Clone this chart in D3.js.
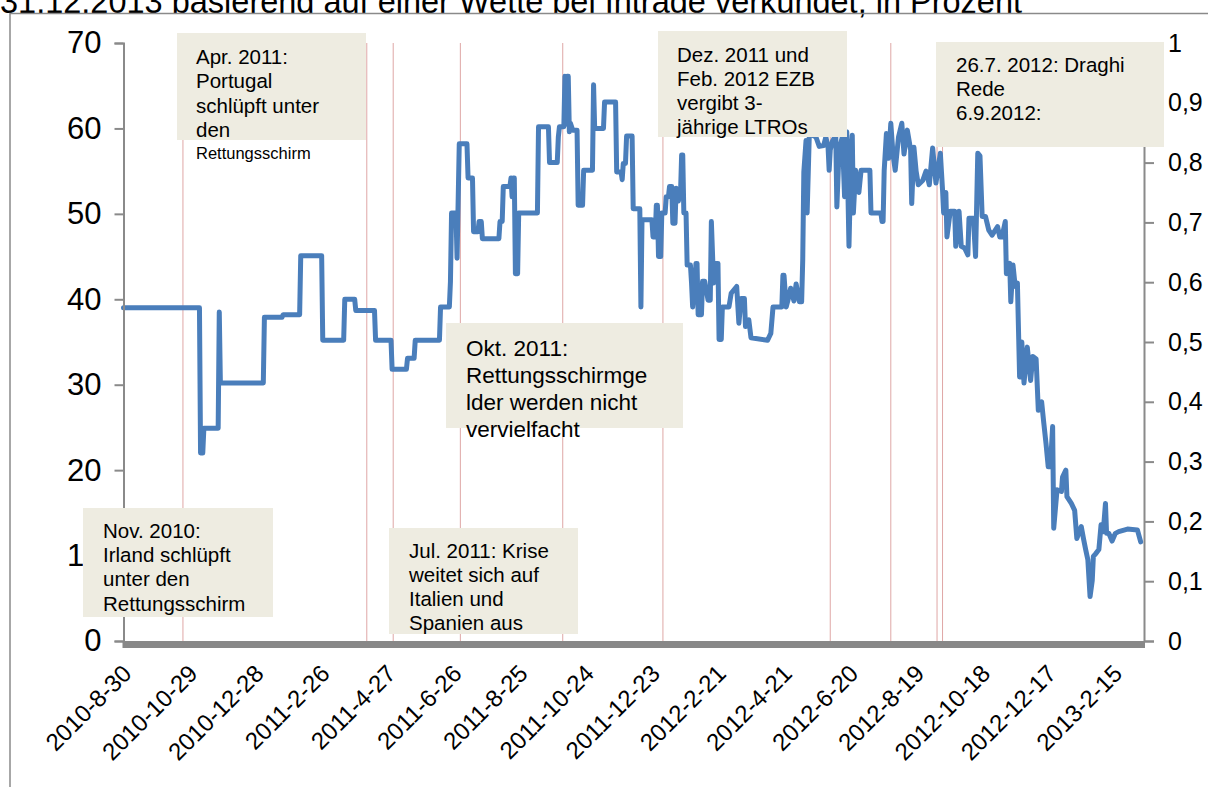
<!DOCTYPE html>
<html>
<head>
<meta charset="utf-8">
<script src="https://cdn.jsdelivr.net/npm/d3@7"></script>
<style>
  body { margin: 0; background: #fff; }
  svg { display: block; font-family: "Liberation Sans", Arial, sans-serif; }
</style>
</head>
<body>
<svg id="chart" width="1208" height="787"></svg>
<script>
const titleText = "31.12.2013 basierend auf einer Wette bei Intrade verkündet, in Prozent";

// day 0 = first category on the axis
const startDate = "2010-8-30";
const lastDay = 927;

const xTickLabels = ["2010-8-30", "2010-10-29", "2010-12-28", "2011-2-26", "2011-4-27", "2011-6-26",
  "2011-8-25", "2011-10-24", "2011-12-23", "2012-2-21", "2012-4-21", "2012-6-20",
  "2012-8-19", "2012-10-18", "2012-12-17", "2013-2-15"];
const leftTicks = [0, 10, 20, 30, 40, 50, 60, 70];
const rightTicks = [0, 0.1, 0.2, 0.3, 0.4, 0.5, 0.6, 0.7, 0.8, 0.9, 1];

// event markers (red lines)
const eventDates = ["2010-10-23", "2011-4-8", "2011-5-2", "2011-7-2", "2011-10-3", "2012-1-2",
  "2012-6-2", "2012-7-27", "2012-9-7", "2012-9-12"];

// days since startDate, and the Intrade probability (percent) on that day
const obsDay = [0, 69, 70, 72, 73, 86, 87, 88, 127, 128, 144, 145, 160, 161, 180, 181, 200, 201, 210, 211,
  228, 229, 243, 244, 257, 258, 264, 265, 287, 288, 296, 297, 298, 302, 303, 305, 312, 313, 317, 318,
  322, 323, 325, 326, 341, 342, 344, 345, 351, 352, 353, 354, 355, 356, 358, 359, 376, 377, 386, 387,
  394, 395, 396, 400, 401, 402, 403, 404, 405, 406, 408, 412, 413, 417, 418, 426, 427, 428, 436, 437,
  447, 448, 452, 453, 454, 456, 457, 462, 463, 469, 470, 471, 480, 481, 483, 484, 485, 486, 488, 489,
  492, 493, 495, 496, 498, 499, 501, 502, 504, 506, 507, 508, 509, 511, 512, 515, 516, 517, 519, 520,
  521, 522, 525, 526, 528, 531, 533, 534, 536, 538, 540, 541, 543, 544, 550, 552, 557, 559, 561, 564,
  565, 568, 570, 585, 588, 590, 598, 599, 600, 602, 604, 606, 609, 611, 614, 616, 617, 618, 620, 621,
  623, 629, 632, 636, 638, 640, 641, 642, 644, 647, 648, 650, 653, 655, 657, 659, 661, 662, 663, 665,
  668, 670, 678, 679, 688, 689, 690, 691, 693, 695, 697, 699, 701, 704, 707, 709, 712, 715, 716, 718,
  720, 722, 726, 729, 732, 735, 738, 742, 744, 745, 747, 748, 751, 755, 756, 759, 761, 764, 767, 768,
  772, 774, 776, 778, 780, 783, 786, 789, 794, 796, 798, 801, 802, 805, 806, 808, 810, 812, 814, 816,
  818, 821, 824, 826, 829, 831, 834, 836, 838, 840, 842, 844, 845, 848, 852, 853, 856, 857, 861, 864,
  866, 870, 872, 874, 876, 878, 880, 881, 883, 886, 888, 890, 892, 893, 895, 898, 901, 904, 912, 921,
  924];
const obsValue = [39.0, 39.0, 22.0, 22.0, 24.9, 24.9, 38.5, 30.2, 30.2, 37.9, 37.9, 38.2, 38.2, 45.1, 45.1, 35.2, 35.2, 40.0, 40.0, 38.7,
  38.7, 35.2, 35.2, 31.8, 31.8, 33.1, 33.1, 35.2, 35.2, 39.1, 39.1, 42.1, 50.1, 50.1, 44.8, 58.2, 58.2, 54.2, 54.2, 47.9,
  47.9, 49.1, 49.1, 47.1, 47.1, 49.1, 49.1, 53.2, 53.2, 54.2, 52.0, 54.2, 54.2, 43.0, 43.0, 50.1, 50.1, 60.2, 60.2, 56.0,
  56.0, 59.0, 60.2, 60.2, 66.1, 60.5, 66.1, 66.1, 59.6, 60.6, 59.8, 59.8, 51.0, 51.0, 55.1, 55.1, 65.1, 60.0, 60.0, 63.1,
  63.1, 54.9, 54.9, 54.0, 55.9, 55.9, 59.1, 59.1, 50.6, 50.6, 39.1, 49.3, 49.3, 47.3, 47.3, 51.0, 51.0, 45.0, 45.0, 50.1,
  50.1, 52.0, 52.0, 53.2, 53.2, 48.9, 48.9, 53.0, 51.5, 52.5, 56.9, 56.9, 50.1, 50.1, 44.0, 44.0, 41.9, 39.1, 41.9, 44.2,
  44.2, 38.2, 38.2, 42.1, 42.1, 39.9, 39.9, 49.1, 41.9, 44.2, 44.2, 35.3, 35.3, 39.1, 39.1, 40.7, 41.5, 37.2, 40.1, 40.1,
  36.8, 37.6, 35.5, 35.2, 36.0, 39.1, 39.1, 42.8, 42.8, 39.1, 40.1, 41.3, 39.8, 41.8, 39.7, 39.7, 44.6, 54.9, 58.6, 50.1,
  59.4, 59.0, 57.9, 58.0, 59.0, 57.8, 55.1, 57.5, 58.5, 59.2, 50.8, 57.5, 59.0, 52.0, 59.6, 46.2, 57.5, 59.2, 50.1, 55.1,
  52.5, 55.1, 55.1, 50.1, 50.1, 49.1, 49.1, 55.1, 59.4, 56.5, 60.6, 57.0, 55.1, 59.0, 60.6, 57.0, 59.8, 57.5, 51.2, 57.8,
  55.0, 53.4, 53.9, 55.0, 53.4, 57.7, 53.6, 57.1, 52.8, 50.1, 52.5, 47.3, 50.3, 50.3, 46.2, 50.3, 46.2, 46.0, 45.2, 49.5,
  49.5, 45.0, 57.1, 56.8, 49.7, 49.7, 48.1, 47.5, 48.5, 47.3, 47.3, 49.1, 43.0, 44.2, 39.7, 44.0, 41.5, 41.9, 30.9, 35.0,
  30.2, 34.4, 30.5, 33.3, 33.0, 27.0, 28.0, 25.5, 23.1, 20.4, 20.4, 25.1, 13.2, 17.7, 17.5, 19.2, 20.0, 16.9, 16.1, 15.3,
  12.0, 13.4, 12.0, 10.7, 9.5, 5.2, 7.1, 9.9, 10.2, 10.7, 13.6, 12.8, 16.1, 12.6, 12.6, 11.7, 12.6, 12.8, 13.1, 13.0,
  11.6];

// annotation texts
const noteLines = [
  ["Apr. 2011:", "Portugal", "schlüpft unter", "den"],
  ["Dez. 2011 und", "Feb. 2012 EZB", "vergibt 3-", "jährige LTROs"],
  ["26.7. 2012: Draghi", "Rede", "6.9.2012:"],
  ["Okt. 2011:", "Rettungsschirmge", "lder werden nicht", "vervielfacht"],
  ["Nov. 2010:", "Irland schlüpft", "unter den", "Rettungsschirm"],
  ["Jul. 2011: Krise", "weitet sich auf", "Italien und", "Spanien aus"]
];
const overflowLine = "Rettungsschirm";

// layout of the annotation boxes (pixels)
const noteLayout = [
  { x: 177, y: 33, w: 189, h: 107, tx: 196, ty: 64, lh: 24.3, fs: 20.5 },
  { x: 658, y: 31, w: 189, h: 106, tx: 677, ty: 61.5, lh: 24, fs: 20.5 },
  { x: 936, y: 42, w: 228, h: 105, tx: 956, ty: 71.5, lh: 24, fs: 20.5 },
  { x: 446, y: 323, w: 237, h: 105, tx: 466, ty: 356, lh: 27, fs: 22.5 },
  { x: 83, y: 508, w: 190, h: 109, tx: 103, ty: 538, lh: 24.2, fs: 20.5 },
  { x: 389, y: 528, w: 189, h: 106, tx: 409, ty: 558, lh: 24, fs: 20.5 }
];

const svg = d3.select("#chart");
const parse = d3.timeParse("%Y-%m-%d");
const start = parse(startDate);
const toDate = (d) => d3.timeDay.offset(start, d);

const plotLeft = 123.5, plotRight = 1144, plotTop = 43, plotBottom = 641;

const x = d3.scaleTime().domain([start, toDate(lastDay)]).range([plotLeft, plotRight]);
const yL = d3.scaleLinear().domain([0, 70]).range([plotBottom, plotTop]);
const yR = d3.scaleLinear().domain([0, 1]).range([plotBottom, plotTop]);

const data = obsDay.map((d, i) => ({ date: toDate(d), value: obsValue[i] }));

// title (cut off at the top, as in the source) and frame
svg.append("text")
  .attr("x", 0)
  .attr("y", 13)
  .attr("font-size", 32.5)
  .text(titleText);

svg.append("path")
  .attr("d", "M10,787V13.5H1208")
  .attr("fill", "none")
  .attr("stroke", "#8a8a8a")
  .attr("stroke-width", 1.5);

// event lines
svg.append("g")
  .selectAll("line")
  .data(eventDates.map(parse))
  .join("line")
  .attr("x1", (d) => x(d))
  .attr("x2", (d) => x(d))
  .attr("y1", plotTop)
  .attr("y2", plotBottom)
  .attr("stroke", "#c0504d")
  .attr("stroke-opacity", 0.5)
  .attr("stroke-width", 1);

// series
const line = d3.line()
  .x((d) => x(d.date))
  .y((d) => yL(d.value));

svg.append("path")
  .datum(data)
  .attr("d", line)
  .attr("fill", "none")
  .attr("stroke", "#4a7ebb")
  .attr("stroke-width", 5)
  .attr("stroke-linejoin", "round")
  .attr("stroke-linecap", "round");

// left axis
const axL = svg.append("g")
  .attr("transform", `translate(${plotLeft},0)`)
  .call(d3.axisLeft(yL).tickValues(leftTicks).tickSize(9).tickPadding(13));
axL.select(".domain").attr("stroke", "#8a8a8a").attr("stroke-width", 2);
axL.selectAll(".tick line").attr("stroke", "#8a8a8a").attr("stroke-width", 2);
axL.selectAll(".tick text").attr("font-size", 31).attr("fill", "#000").attr("font-family", null);

// right axis
const fmtR = (d) => (d === 0 || d === 1 ? String(d) : d.toFixed(1).replace(".", ","));
const axR = svg.append("g")
  .attr("transform", `translate(${plotRight},0)`)
  .call(d3.axisRight(yR).tickValues(rightTicks).tickFormat(fmtR).tickSize(10).tickPadding(14));
axR.select(".domain").attr("stroke", "#8a8a8a").attr("stroke-width", 2);
axR.selectAll(".tick line").attr("stroke", "#8a8a8a").attr("stroke-width", 2);
axR.selectAll(".tick text").attr("font-size", 25).attr("fill", "#000").attr("font-family", null);

// bottom axis: thick bar and rotated date labels
svg.append("line")
  .attr("x1", plotLeft - 1)
  .attr("x2", plotRight + 1)
  .attr("y1", plotBottom + 3.5)
  .attr("y2", plotBottom + 3.5)
  .attr("stroke", "#888")
  .attr("stroke-width", 7);

const fmtX = (d) => `${d.getFullYear()}-${d.getMonth() + 1}-${d.getDate()}`;
const axX = svg.append("g")
  .attr("transform", `translate(0,${plotBottom})`)
  .call(d3.axisBottom(x).tickValues(xTickLabels.map(parse)).tickFormat(fmtX).tickSize(0));
axX.select(".domain").remove();
axX.selectAll(".tick text")
  .attr("font-size", 24)
  .attr("fill", "#000")
  .attr("font-family", null)
  .attr("text-anchor", "end")
  .attr("y", 0)
  .attr("dy", 0)
  .attr("transform", "translate(9,34) rotate(-45)");

// annotation boxes
const notes = svg.append("g");
noteLayout.forEach((b, i) => {
  notes.append("rect")
    .attr("x", b.x)
    .attr("y", b.y)
    .attr("width", b.w)
    .attr("height", b.h)
    .attr("fill", "#eeece1");
  const t = notes.append("text")
    .attr("font-size", b.fs)
    .attr("fill", "#000");
  noteLines[i].forEach((s, j) => {
    t.append("tspan").attr("x", b.tx).attr("y", b.ty + j * b.lh).text(s);
  });
});

// last word of the Portugal note sits below its box in a smaller size
notes.append("text")
  .attr("x", noteLayout[0].tx)
  .attr("y", 159)
  .attr("font-size", 16.5)
  .text(overflowLine);
</script>
</body>
</html>
